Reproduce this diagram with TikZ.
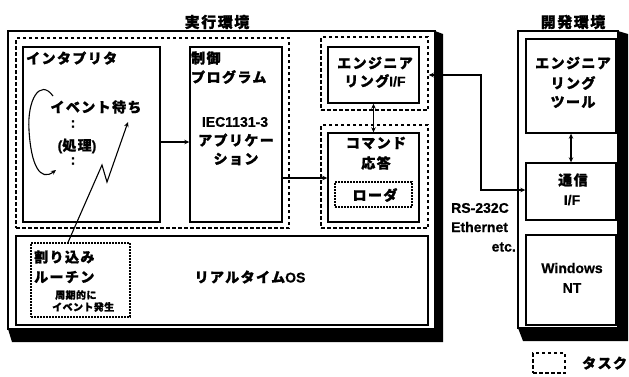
\documentclass[tikz,border=0pt]{standalone}
\usepackage{fontspec}
\setmainfont{Liberation Sans}
\newfontfamily\jp{Noto Sans CJK JP}[LetterSpace=10,BoldFeatures={FakeBold=1.2}]
\newfontfamily\jps{Noto Sans CJK JP}[LetterSpace=4,BoldFeatures={FakeBold=1}]
\newfontfamily\la{Liberation Sans}[BoldFeatures={FakeBold=0.6}]
\usetikzlibrary{fit,arrows.meta}
\begin{document}
\begin{tikzpicture}[x=1pt,y=-1pt,
  outer/.style={draw,line width=1.8pt,fill=white,inner sep=0pt},
  sbox/.style={draw,line width=1.4pt,fill=white,inner sep=0pt},
  task/.style={draw,line width=1.5pt,dash pattern=on 3.5pt off 2.5pt,inner sep=0pt},
  dotbox/.style={draw,line width=1.2pt,dash pattern=on 2pt off 1pt,inner sep=0pt},
  arr/.style={line width=1.1pt,-{Stealth[length=5pt,width=4.5pt]}},
  darr/.style={line width=1.1pt,{Stealth[length=5pt,width=4.5pt]}-{Stealth[length=5pt,width=4.5pt]}},
  jt/.style={inner sep=0pt,font=\fontsize{14}{16}\selectfont\bfseries\jp},
  lt/.style={inner sep=0pt,font=\fontsize{14}{16}\selectfont\bfseries\la},
  st/.style={inner sep=0pt,font=\fontsize{10}{11}\selectfont\bfseries\jps},
  tt/.style={inner sep=0pt,font=\fontsize{15}{17}\selectfont\bfseries\jp}]
\useasboundingbox (0,0) rectangle (629,376);
% shadows of the two environment boxes
\fill (435,31)--(443,34)--(443,342)--(12,342)--(8,329)--cycle;
\fill (618,31)--(628,34)--(628,341)--(523,341)--(518,328)--cycle;
\node[outer,fit={(8,31)(435,329)}] (exec) {};
\node[outer,fit={(518,31)(618,328)}] (dev) {};
% titles
\node[tt] (ttl1) at (217,22) {実行環境};
\node[tt] (ttl2) at (573,22) {開発環境};
% execution environment
\node[task,fit={(16,38)(289,228)}] (taskA) {};
\node[sbox,fit={(23,47)(160,222)}] (interp) {};
\node[sbox,fit={(190,47)(282,222)}] (ctrl) {};
\node[task,fit={(321,37)(428,110)}] (taskB) {};
\node[sbox,fit={(328,47)(419,103)}] (engif) {};
\node[task,fit={(321,125)(428,228)}] (taskC) {};
\node[sbox,fit={(328,133)(419,222)}] (cmd) {};
\node[dotbox,fit={(335,182)(412,207)}] (loader) {};
\node[sbox,fit={(16,236)(428,325)}] (rtos) {};
\node[dotbox,fit={(31,243)(130,317)}] (intr) {};
% development environment
\node[sbox,fit={(526,39)(616,133)}] (tool) {};
\node[sbox,fit={(526,163)(616,220)}] (comm) {};
\node[sbox,fit={(526,235)(616,325)}] (winnt) {};
% legend
\node[task,fit={(533,353)(565,373)}] (legend) {};
\node[jt,anchor=west] (tlegend) at (582,363) {タスク};
% texts
\node[jt,anchor=west] (t1) at (26,58) {インタプリタ};
\node[jt] (t2) at (96,107) {イベント待ち};
\node[lt] (t3) at (73,124) {:};
\node[jt] (t4) at (77,146) {{\la(}処理{\la)}};
\node[lt] (t5) at (73,161) {:};
\node[jt,anchor=west] (t6) at (191,58) {制御};
\node[jt,anchor=west] (t7) at (191,77) {プログラム};
\node[lt] (t8) at (235,122) {IEC1131-3};
\node[jt] (t9) at (236,140) {アプリケー};
\node[jt] (t10) at (236,159) {ション};
\node[jt] (t11) at (375,63) {エンジニア};
\node[jt] (t12) at (375,81) {リング{\la I/F}};
\node[jt] (t13) at (376,143) {コマンド};
\node[jt] (t14) at (376,163) {応答};
\node[jt] (t15) at (375,195) {ローダ};
\node[jt,anchor=west] (t16) at (34,257) {割り込み};
\node[jt,anchor=west] (t17) at (34,277) {ルーチン};
\node[st,anchor=west] (t18) at (55,295) {周期的に};
\node[st,anchor=west] (t19) at (52,307) {イベント発生};
\node[jt] (t20) at (250,277) {リアルタイム{\la OS}};
\node[jt] (t21) at (573,63) {エンジニア};
\node[jt] (t22) at (573,83) {リング};
\node[jt] (t23) at (573,102) {ツール};
\node[jt] (t24) at (573,180) {通信};
\node[lt] (t25) at (572,200) {I/F};
\node[lt] (t26) at (572,268) {Windows};
\node[lt] (t27) at (572,288) {NT};
\node[lt,anchor=west] (t28) at (451,208) {RS-232C};
\node[lt,anchor=west] (t29) at (451,227) {Ethernet};
\node[lt,anchor=east] (t30) at (516,247) {etc.};
% connectors
\coordinate (ya) at (0,142);
\draw[arr] (interp.east |- ya) -- (ctrl.west |- ya);
\coordinate (yb) at (0,178);
\draw[arr] (ctrl.east |- yb) -- (cmd.west |- yb);
\draw[darr] (engif.south) -- (cmd.north);
\draw[darr] (tool.south) -- (comm.north);
\coordinate (yc) at (0,75);
\coordinate (bend) at (481,130);
\coordinate (yd) at (0,190);
\draw[darr] (taskB.east |- yc) -| (bend) |- (comm.west |- yd);
% interrupt zigzag
\coordinate (zx) at (68,0);
\coordinate (z1) at (102,165);
\coordinate (z2) at (107,182);
\coordinate (z3) at (128,122);
\draw[arr] (intr.north -| zx) -- (z1) -- (z2) -- (z3);
% event loop
\draw[arr] (53,96) .. controls (40,78) and (27,100) .. (29,130) .. controls (31,165) and (40,182) .. (56,170);
\end{tikzpicture}
\end{document}
